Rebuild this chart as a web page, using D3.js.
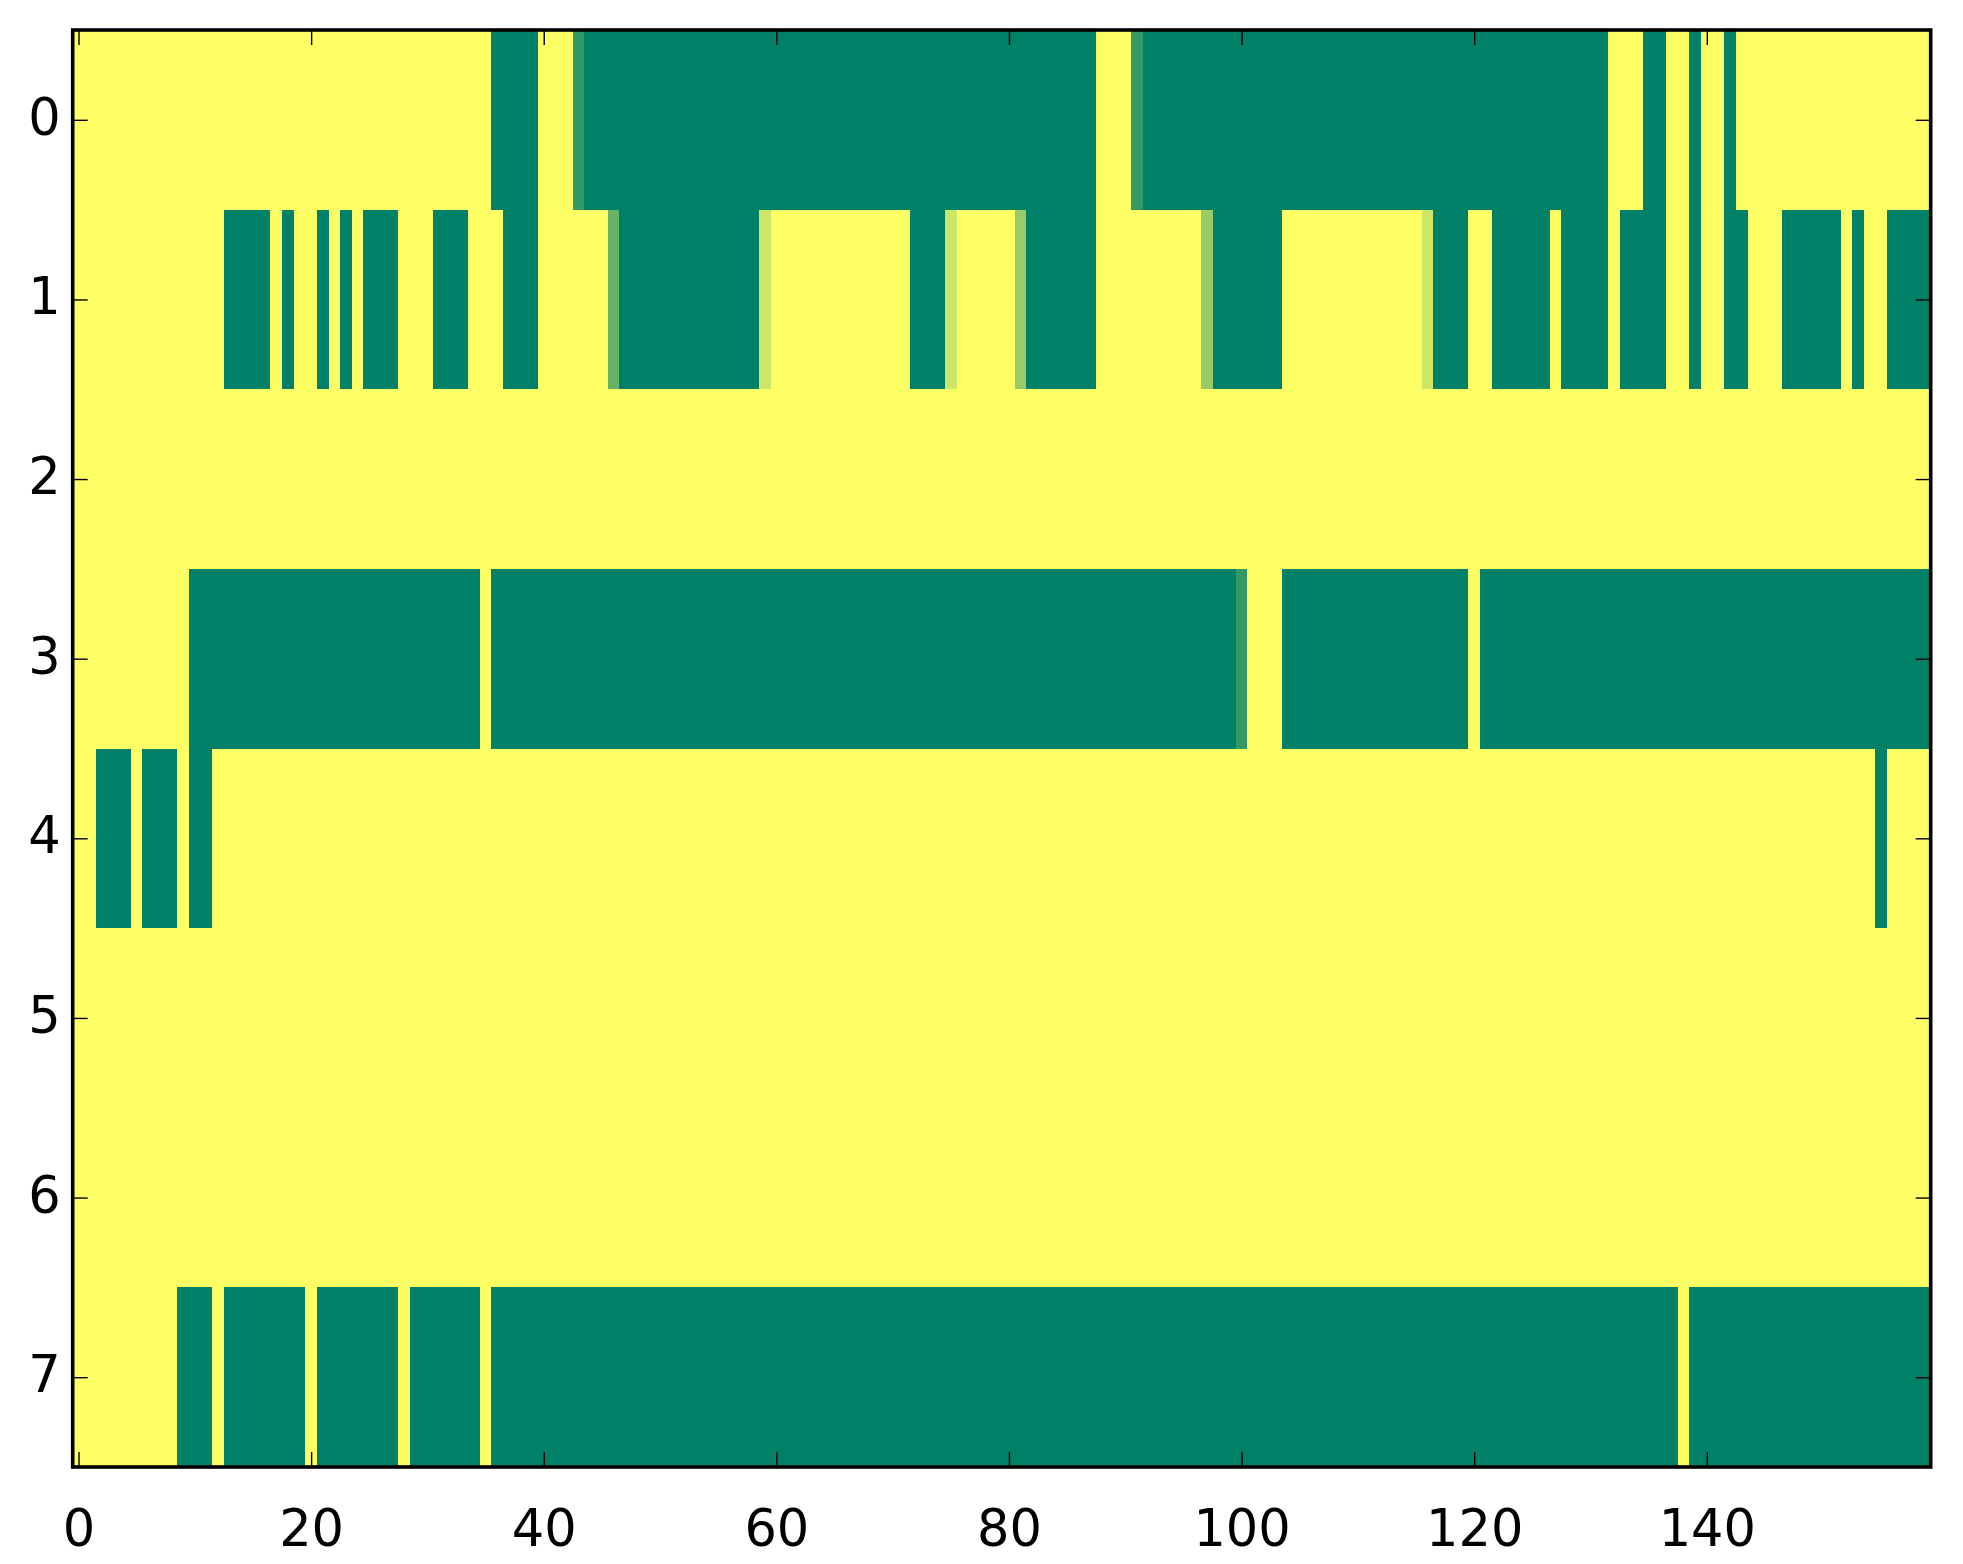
<!DOCTYPE html>
<html>
<head>
<meta charset="utf-8">
<script src="https://cdnjs.cloudflare.com/ajax/libs/d3/7.8.5/d3.min.js"></script>
<style>
  body { margin: 0; background: #fff; }
  svg text { font-family: "DejaVu Sans", sans-serif; }
</style>
</head>
<body>
<div class="stage"></div>
<script>
// each row is a list of runs: [value, number of columns], read left to right
var row0 = [[1,36],[0,4],[1,3],[0.2,1],[0,44],[1,3],[0.2,1],[0,40],[1,3],[0,2],[1,2],[0,1],[1,2],[0,1],[1,17]];
var row1 = [[1,13],[0,4],[1,1],[0,1],[1,2],[0,1],[1,1],[0,1],[1,1],[0,3],[1,3],[0,3],[1,3],[0,3],
            [1,6],[0.4,1],[0,12],[0.8,1],[1,12],[0,3],[0.8,1],[1,5],[0.6,1],[0,6],[1,9],[0.6,1],[0,6],
            [1,12],[0.8,1],[0,3],[1,2],[0,5],[1,1],[0,4],[1,1],[0,4],[1,2],[0,1],[1,2],[0,2],[1,3],
            [0,5],[1,1],[0,1],[1,2],[0,4]];
var row2 = [[1,160]];
var row3 = [[1,10],[0,25],[1,1],[0,64],[0.2,1],[1,3],[0,16],[1,1],[0,39]];
var row4 = [[1,2],[0,3],[1,1],[0,3],[1,1],[0,2],[1,143],[0,1],[1,4]];
var row5 = [[1,160]];
var row6 = [[1,160]];
var row7 = [[1,9],[0,3],[1,1],[0,7],[1,1],[0,7],[1,1],[0,6],[1,1],[0,102],[1,1],[0,21]];

var rows = [row0, row1, row2, row3, row4, row5, row6, row7];
var xTicks = [0, 20, 40, 60, 80, 100, 120, 140];
var yTicks = [0, 1, 2, 3, 4, 5, 6, 7];

// expand runs into cells
var cells = [];
rows.forEach(function(runs, r){
  var c = 0;
  runs.forEach(function(run){
    for (var k = 0; k < run[1]; k++) {
      cells.push({row: r, col: c, v: run[0]});
      c++;
    }
  });
});

var W = 1963, H = 1564;
var plotL = 72.7, plotR = 1930.7, plotT = 30, plotB = 1467;

var svg = d3.select(".stage").append("svg")
  .attr("width", W).attr("height", H);

var x = d3.scaleLinear().domain([-0.5, 159.25]).range([plotL, plotR]);
var y = d3.scaleLinear().domain([-0.5, 7.5]).range([plotT, plotB]);
// matplotlib "summer" colormap is linear in rgb
var color = d3.scaleLinear().domain([0, 1]).range(["#008066", "#ffff66"]);

svg.append("clipPath").attr("id", "plotclip")
  .append("rect")
  .attr("x", plotL).attr("y", plotT)
  .attr("width", plotR - plotL).attr("height", plotB - plotT);

svg.append("g").attr("clip-path", "url(#plotclip)")
  .selectAll("rect.cell").data(cells).enter()
  .append("rect")
  .attr("class", "cell")
  .attr("x", function(d){ return x(d.col - 0.5); })
  .attr("y", function(d){ return y(d.row - 0.5); })
  .attr("width", function(d){ return x(d.col + 0.5) - x(d.col - 0.5) + 0.6; })
  .attr("height", function(d){ return y(d.row + 0.5) - y(d.row - 0.5) + 0.6; })
  .attr("fill", function(d){ return color(d.v); })
  .attr("shape-rendering", "crispEdges");

// ticks point inward on all four sides
var tickLen = 15;
function styleAxis(g) {
  g.select(".domain").remove();
  g.selectAll(".tick line").attr("stroke", "#000").attr("stroke-width", 1.4);
  g.selectAll("text").attr("fill", "#000").attr("font-size", 51);
}

svg.append("g").attr("transform", "translate(0," + plotB + ")")
  .call(d3.axisBottom(x).tickValues(xTicks).tickSize(-tickLen).tickFormat(d3.format("d")))
  .call(styleAxis)
  .selectAll("text").attr("y", 79).attr("dy", 0);

svg.append("g").attr("transform", "translate(0," + plotT + ")")
  .call(d3.axisTop(x).tickValues(xTicks).tickSize(-tickLen).tickFormat(""))
  .call(styleAxis);

svg.append("g").attr("transform", "translate(" + plotL + ",0)")
  .call(d3.axisLeft(y).tickValues(yTicks).tickSize(-tickLen).tickFormat(d3.format("d")))
  .call(styleAxis)
  .selectAll("text").attr("x", -12).attr("dy", 0).attr("y", 14.5);

svg.append("g").attr("transform", "translate(" + plotR + ",0)")
  .call(d3.axisRight(y).tickValues(yTicks).tickSize(-tickLen).tickFormat(""))
  .call(styleAxis);

// frame
svg.append("rect")
  .attr("x", plotL).attr("y", plotT)
  .attr("width", plotR - plotL).attr("height", plotB - plotT)
  .attr("fill", "none").attr("stroke", "#000").attr("stroke-width", 3.6);
</script>
</body>
</html>
